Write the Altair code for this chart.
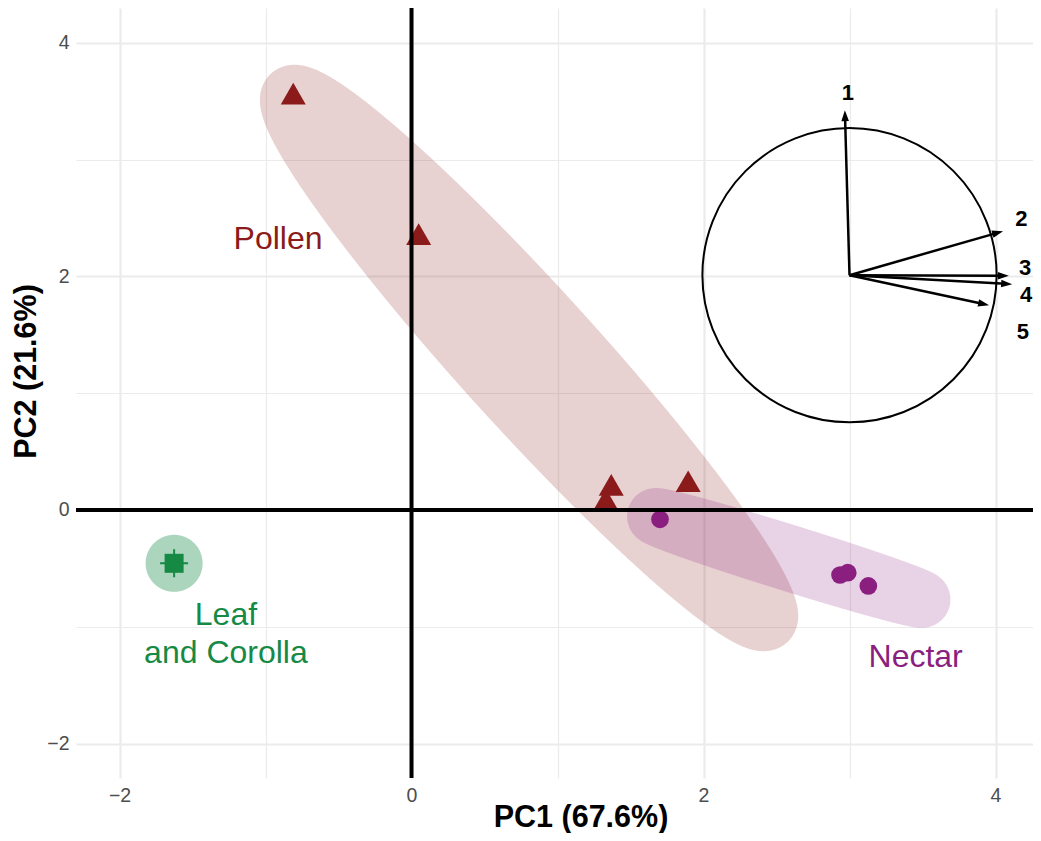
import numpy as np
import pandas as pd
import altair as alt

# ---------------- data ----------------
pollen_pc1 = [-0.810, 0.049, 1.368, 1.331, 1.895]
pollen_pc2 = [3.565, 2.361, 0.215, 0.090, 0.246]
nectar_pc1 = [1.702, 2.935, 2.988, 3.129]
nectar_pc2 = [-0.080, -0.557, -0.537, -0.651]
leaf_pc1 = [-1.626]
leaf_pc2 = [-0.457]

# group ellipses (centre in data units, inner ellipse in px, screen angle)
ell_group = ["Pollen", "Nectar", "Leaf and Corolla"]
ell_cx = [0.805, 2.584, -1.626]
ell_cy = [1.301, -0.411, -0.457]
ell_angle = [47.8, 17.3, 0.0]
ell_a = [356.0, 140.0, 0.5]
ell_b = [42.0, 5.0, 0.5]
ell_alpha = [0.2, 0.2, 0.36]

# variable loadings on the correlation circle (circle-radius units)
var_names = ["1", "2", "3", "4", "5"]
load_x = [-0.028, 0.925, 0.960, 0.980, 0.841]
load_y = [0.994, 0.265, -0.004, -0.054, -0.181]
lab_x = [-0.010, 1.036, 1.058, 1.064, 1.045]
lab_y = [1.098, 0.336, 0.045, -0.120, -0.342]
circle_center = (3.0, 2.01)

# group labels
grp_text = ["Pollen", "Leaf", "and Corolla", "Nectar"]
grp_x = [-0.914, -1.271, -1.271, 3.453]
grp_y = [2.235, -0.985, -1.310, -1.342]

x_ticks = [-2, -1, 0, 1, 2, 3, 4]
y_ticks = [-2, -1, 0, 1, 2, 3, 4]

# ---------------- styling / layout ----------------
C_POLLEN = "#8B1A1A"
C_NECTAR = "#8A1F80"
C_LEAF = "#168A45"
grp_color = [C_POLLEN, C_LEAF, C_LEAF, C_NECTAR]
ell_color = [C_POLLEN, C_NECTAR, C_LEAF]
FONT = "Liberation Sans"

PXX = 146.0
PXY = 116.8
W, H = 957, 770
XMIN = -2.298
XMAX = XMIN + W / PXX
YMIN, YMAX = -2.295, -2.295 + H / PXY
EXPAND = 28.0
CIRCLE_R = 166.0

xs = alt.Scale(domain=[XMIN, XMAX], nice=False, zero=False)
ys = alt.Scale(domain=[YMIN, YMAX], nice=False, zero=False)

grid_w = {"condition": {"test": "datum.value % 2 === 0", "value": 2.2}, "value": 1.2}
xaxis = alt.Axis(values=x_ticks, format="d",
                 labelExpr="datum.value % 2 === 0 ? datum.label : ''",
                 grid=True, gridColor="#EBEBEB", gridWidth=grid_w, ticks=False, domain=False,
                 labelFont=FONT, labelFontSize=19.5, labelColor="#4D4D4D", labelPadding=8,
                 labelOverlap=False, labelFlush=False,
                 title="PC1 (67.6%)", titleFont=FONT, titleFontSize=30.5, titleFontWeight="bold",
                 titleColor="black", titleX=504.5, titleY=48, titleBaseline="alphabetic",
                 titleAlign="center")
yaxis = alt.Axis(values=y_ticks, format="d",
                 labelExpr="datum.value % 2 === 0 ? datum.label : ''",
                 grid=True, gridColor="#EBEBEB", gridWidth=grid_w, ticks=False, domain=False,
                 labelFont=FONT, labelFontSize=19.5, labelColor="#4D4D4D", labelPadding=7,
                 labelOverlap=False, labelFlush=False,
                 title="PC2 (21.6%)", titleFont=FONT, titleFontSize=30.5, titleFontWeight="bold",
                 titleColor="black", titleX=-41, titleY=363, titleAngle=270,
                 titleBaseline="alphabetic", titleAlign="center")

# ---------------- ellipse polygons ----------------
def ellipse_df(cx, cy, ang, a, b):
    t = np.linspace(0, 2 * np.pi, 2401)
    px, py = a * np.cos(t), b * np.sin(t)
    nx, ny = b * np.cos(t), a * np.sin(t)
    nn = np.hypot(nx, ny)
    qx = px + EXPAND * nx / nn
    qy = py + EXPAND * ny / nn
    th = np.deg2rad(ang)
    dx = qx * np.cos(th) - qy * np.sin(th)
    dy = qx * np.sin(th) + qy * np.cos(th)
    return pd.DataFrame({"x": cx + dx / PXX, "y": cy - dy / PXY, "i": np.arange(len(t))})

layers = []
for k in range(len(ell_group)):
    d = ellipse_df(ell_cx[k], ell_cy[k], ell_angle[k], ell_a[k], ell_b[k])
    layers.append(
        alt.Chart(d).mark_line(fill=ell_color[k], fillOpacity=ell_alpha[k], strokeWidth=0,
                               strokeOpacity=0, interpolate="linear")
        .encode(x=alt.X("x:Q", scale=xs, axis=xaxis), y=alt.Y("y:Q", scale=ys, axis=yaxis),
                order=alt.Order("i:Q"))
    )

# ---------------- points ----------------
pol = pd.DataFrame({"x": pollen_pc1, "y": pollen_pc2})
nec = pd.DataFrame({"x": nectar_pc1, "y": nectar_pc2})
leaf = pd.DataFrame({"x": leaf_pc1, "y": leaf_pc2})

layers.append(alt.Chart(pol).mark_point(shape="triangle-up", filled=True, size=625, opacity=1,
                                        color=C_POLLEN, strokeWidth=0)
              .encode(x=alt.X("x:Q", scale=xs), y=alt.Y("y:Q", scale=ys)))
layers.append(alt.Chart(nec).mark_point(shape="circle", filled=True, size=314, opacity=1,
                                        color=C_NECTAR, strokeWidth=0)
              .encode(x=alt.X("x:Q", scale=xs), y=alt.Y("y:Q", scale=ys)))
layers.append(alt.Chart(leaf).mark_point(shape="square", filled=True, size=361, opacity=1,
                                         color=C_LEAF, strokeWidth=0)
              .encode(x=alt.X("x:Q", scale=xs), y=alt.Y("y:Q", scale=ys)))
layers.append(alt.Chart(leaf).mark_point(shape="M-1,0L1,0M0,-1L0,1", filled=False, size=784,
                                         opacity=1, color=C_LEAF, strokeWidth=2)
              .encode(x=alt.X("x:Q", scale=xs), y=alt.Y("y:Q", scale=ys)))

# ---------------- zero lines ----------------
zero = pd.DataFrame({"v": [0]})
layers.append(alt.Chart(zero).mark_rule(color="black", strokeWidth=4)
              .encode(x=alt.X("v:Q", scale=xs)))
layers.append(alt.Chart(zero).mark_rule(color="black", strokeWidth=4)
              .encode(y=alt.Y("v:Q", scale=ys)))

# ---------------- correlation circle ----------------
cx0, cy0 = circle_center
circ = pd.DataFrame({"x": [cx0], "y": [cy0]})
layers.append(alt.Chart(circ).mark_point(shape="circle", filled=False, size=np.pi * CIRCLE_R ** 2,
                                         color="black", strokeWidth=2, opacity=1)
              .encode(x=alt.X("x:Q", scale=xs), y=alt.Y("y:Q", scale=ys)))

HEAD_BACK = 6.9
lx = np.array(load_x)
ly = np.array(load_y)
ln = np.hypot(lx, ly)
tip_px_x = lx * CIRCLE_R
tip_px_y = ly * CIRCLE_R
head_px_x = tip_px_x - HEAD_BACK * lx / ln
head_px_y = tip_px_y - HEAD_BACK * ly / ln
arrows = pd.DataFrame({
    "x": [cx0] * len(lx), "y": [cy0] * len(lx),
    "x2": cx0 + head_px_x / PXX, "y2": cy0 + head_px_y / PXY,
    "hx": cx0 + head_px_x / PXX, "hy": cy0 + head_px_y / PXY,
    "ang": np.mod(np.degrees(np.arctan2(lx, ly)), 360),
    "lx": cx0 + np.array(lab_x) * CIRCLE_R / PXX,
    "ly": cy0 + np.array(lab_y) * CIRCLE_R / PXY,
    "name": var_names,
})
layers.append(alt.Chart(arrows).mark_rule(color="black", strokeWidth=2.5)
              .encode(x=alt.X("x:Q", scale=xs), y=alt.Y("y:Q", scale=ys), x2="x2:Q", y2="y2:Q"))
layers.append(alt.Chart(arrows).mark_point(shape="M0,-1L0.55,0.6L-0.55,0.6Z", filled=True,
                                           size=190, color="black", opacity=1, strokeWidth=0)
              .encode(x=alt.X("hx:Q", scale=xs), y=alt.Y("hy:Q", scale=ys),
                      angle=alt.Angle("ang:Q", scale=None)))
layers.append(alt.Chart(arrows).mark_text(font=FONT, fontSize=22, fontWeight="bold", color="black",
                                          align="center", baseline="middle")
              .encode(x=alt.X("lx:Q", scale=xs), y=alt.Y("ly:Q", scale=ys), text="name:N"))

# ---------------- group labels ----------------
lab = pd.DataFrame({"x": grp_x, "y": grp_y, "t": grp_text, "c": grp_color})
layers.append(alt.Chart(lab).mark_text(font=FONT, fontSize=32, align="center", baseline="alphabetic")
              .encode(x=alt.X("x:Q", scale=xs), y=alt.Y("y:Q", scale=ys), text="t:N",
                      color=alt.Color("c:N", scale=None)))

chart = (alt.layer(*layers)
         .properties(width=W, height=H, autosize=alt.AutoSizeParams(type="none"),
                     padding={"left": 68, "top": 0, "right": 0, "bottom": 55},
                     background="white")
         .configure_view(stroke=None))

chart.save("out.html", embed_options={"renderer": "svg", "actions": False})
